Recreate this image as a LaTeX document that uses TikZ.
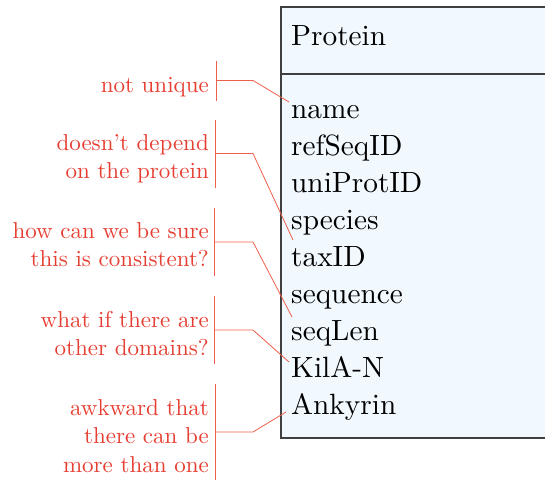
\documentclass[tikz,border=0pt]{standalone}
\usepackage{fontspec}
\setmainfont{lmroman10-regular.otf}
\definecolor{notered}{RGB}{230,62,50}
\definecolor{linered}{RGB}{238,96,76}
\definecolor{boxfill}{RGB}{241,248,254}
\tikzset{
  note/.style={anchor=base east, inner sep=0pt, text=notered, font=\fontsize{23}{29}\selectfont, align=right},
  field/.style={anchor=base west, inner sep=0pt, font=\fontsize{29.3}{37}\selectfont},
  bracket/.style={draw=linered, line width=0.8pt},
  classbox/.style={fill=boxfill, draw=black!75, line width=1.2pt},
}
\begin{document}
\begin{tikzpicture}[x=1pt,y=-1pt]
\useasboundingbox (0,0) rectangle (545,479);
\clip (0,0) rectangle (545,479);
% class box
\draw[classbox] (281,7) rectangle (560,438);
\draw[classbox] (281,74) -- (560,74);
\node[field] (title) at (291,45) {Protein};
\node[field] (f1) at (291,118) {name};
\node[field] (f2) at (291,155.1) {refSeqID};
\node[field] (f3) at (291,192.2) {uniProtID};
\node[field] (f4) at (291,229.3) {species};
\node[field] (f5) at (291,266.4) {taxID};
\node[field] (f6) at (291,303.5) {sequence};
\node[field] (f7) at (291,340.6) {seqLen};
\node[field] (f8) at (291,377.7) {KilA-N};
\node[field] (f9) at (291,414.8) {Ankyrin};
% notes
\node[note] (n1) at (209,92) {not unique};
\node[note] (n2) at (209,150) {doesn't depend};
\node[note] (n2b) at (209,178) {on the protein};
\node[note] (n3) at (209,238) {how can we be sure};
\node[note] (n3b) at (209,266) {this is consistent?};
\node[note] (n4) at (209,327) {what if there are};
\node[note] (n4b) at (209,355) {other domains?};
\node[note] (n5) at (209,415) {awkward that};
\node[note] (n5b) at (209,443) {there can be};
\node[note] (n5c) at (209,472) {more than one};
% brackets
\coordinate (b1) at (216.5,80.5);
\coordinate (k1) at (253,80.5);
\coordinate (t1) at (289,102);
\coordinate (b2) at (215.5,153.5);
\coordinate (k2) at (253,153.5);
\coordinate (t2) at (293,240);
\coordinate (b3) at (214.5,242);
\coordinate (k3) at (253,242);
\coordinate (t3) at (292,317);
\coordinate (b4) at (214.5,330);
\coordinate (k4) at (253,330);
\coordinate (t4) at (289,362);
\coordinate (b5) at (215.5,432);
\coordinate (k5) at (253,432);
\coordinate (t5) at (286,412);
\draw[bracket] ([yshift=-20pt]b1) -- ([yshift=20pt]b1);
\draw[bracket] ([yshift=-34pt]b2) -- ([yshift=34pt]b2);
\draw[bracket] ([yshift=-34pt]b3) -- ([yshift=34pt]b3);
\draw[bracket] ([yshift=-34pt]b4) -- ([yshift=34pt]b4);
\draw[bracket] ([yshift=-48pt]b5) -- ([yshift=48pt]b5);
\draw[bracket] (b1) -- (k1) -- (t1);
\draw[bracket] (b2) -- (k2) -- (t2);
\draw[bracket] (b3) -- (k3) -- (t3);
\draw[bracket] (b4) -- (k4) -- (t4);
\draw[bracket] (b5) -- (k5) -- (t5);
\end{tikzpicture}
\end{document}
